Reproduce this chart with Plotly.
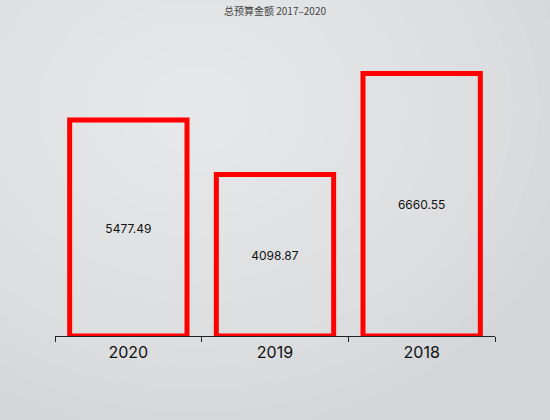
import plotly.graph_objs as go

# Data
years = ["2020", "2019", "2018"]
budget = [5477.49, 4098.87, 6660.55]
labels = ["5477.49", "4098.87", "6660.55"]
chart_title = "总预算金额 2017–2020"

fig = go.Figure()
fig.add_trace(
    go.Bar(
        x = years,
        y = budget,
        text = labels,
        textposition = "inside",
        insidetextanchor = "middle",
        textfont = dict(color = "#111111", size = 12, family = "Inter"),
        marker = dict(color = "rgba(0,0,0,0)", line = dict(color = "#ff0000", width = 5)),
        hoverinfo = "skip",
    )
)

# soft radial glow for the background (decoration only)
glow = []
n = 14
for i in range(n):
    r = 0.9 - i * 0.06
    glow.append(
        dict(
            type = "circle", xref = "paper", yref = "paper", layer = "below",
            x0 = 0.32 - r, x1 = 0.32 + r, y0 = 0.82 - r * 1.3, y1 = 0.82 + r * 1.3,
            fillcolor = "rgba(255,255,255,0.055)", line = dict(width = 0),
        )
    )

fig.update_layout(
    width = 550,
    height = 420,
    margin = dict(l = 55, r = 55, t = 60, b = 84),
    paper_bgcolor = "#d3d5d9",
    plot_bgcolor = "rgba(0,0,0,0)",
    showlegend = False,
    bargap = 0.2,
    shapes = glow,
    title = dict(
        text = chart_title, x = 0.5, xanchor = "center", y = 0.982, yanchor = "top",
        font = dict(size = 10, color = "#444444", family = "Noto Sans CJK SC"),
    ),
    xaxis = dict(
        showline = True, linecolor = "#222222", linewidth = 1,
        ticks = "outside", tickson = "boundaries", ticklen = 5, tickcolor = "#222222",
        ticklabelstandoff = 2,
        tickfont = dict(size = 16, color = "#111111", family = "Inter"),
        showgrid = False, zeroline = False,
    ),
    yaxis = dict(
        range = [0, 7000], visible = False, showgrid = False, zeroline = False,
    ),
)

fig.write_html(
    "out.html",
    config = {"displayModeBar": False},
    post_script = "document.body.style.margin='0';",
)
